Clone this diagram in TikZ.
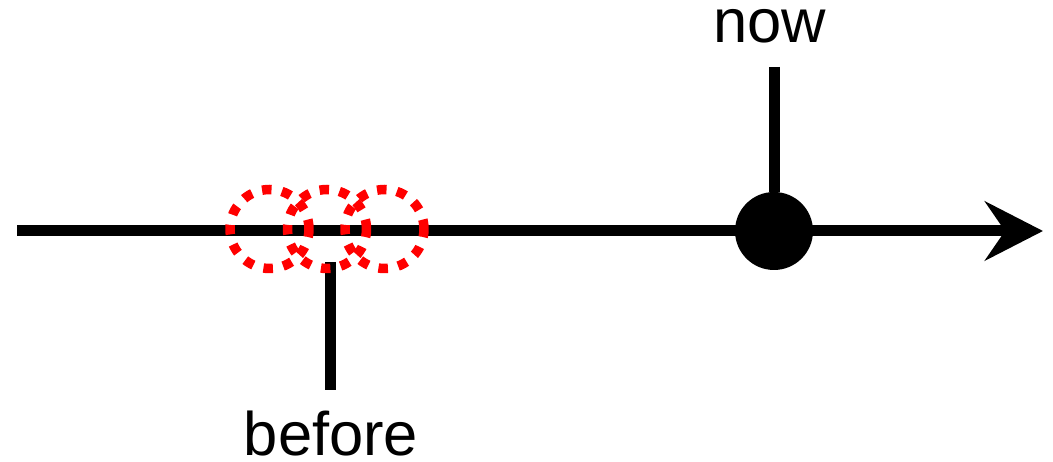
\documentclass[tikz,border=0pt]{standalone}
\usepackage{fontspec}
\setmainfont{Liberation Sans}
\usetikzlibrary{arrows.meta,positioning}

\begin{document}
\begin{tikzpicture}[x=0.02cm, y=0.02cm, line width=0.22cm,
  >={Stealth[length=1.16cm, width=1.18cm, inset=0.4cm]}]
\tikzstyle{every node}=[font=\fontsize{35}{42}\selectfont]
\tikzstyle{moment}=[circle, fill=black, inner sep=0pt, outer sep=0pt, minimum size=1.56cm]
\tikzstyle{guess}=[circle, draw=red, line width=0.19cm, dash pattern=on 0.19cm off 0.21cm, inner sep=0pt, outer sep=0pt, minimum size=1.58cm]
\useasboundingbox (0,0) rectangle (1053,462);

\coordinate (start) at (17,231);
\coordinate (end)   at (1043,231);
\draw[->] (start) -- (end);

% the present
\node[moment] (N) at (774,231) {};
\coordinate (Ntop) at (774,395);
\draw (Ntop) -- (N);
\node[anchor=base] (nowlbl) at (770,419) {now};

% the past, not sure where
\coordinate (Btop) at (330,200);
\coordinate (Bbot) at (330,72);
\draw (Btop) -- (Bbot);
\node[anchor=base] (beforelbl) at (331,6) {before};

\foreach \i/\x in {1/269.5, 2/327, 3/384.5}
  \node[guess] (G\i) at (\x,233) {};
\end{tikzpicture}
\end{document}
